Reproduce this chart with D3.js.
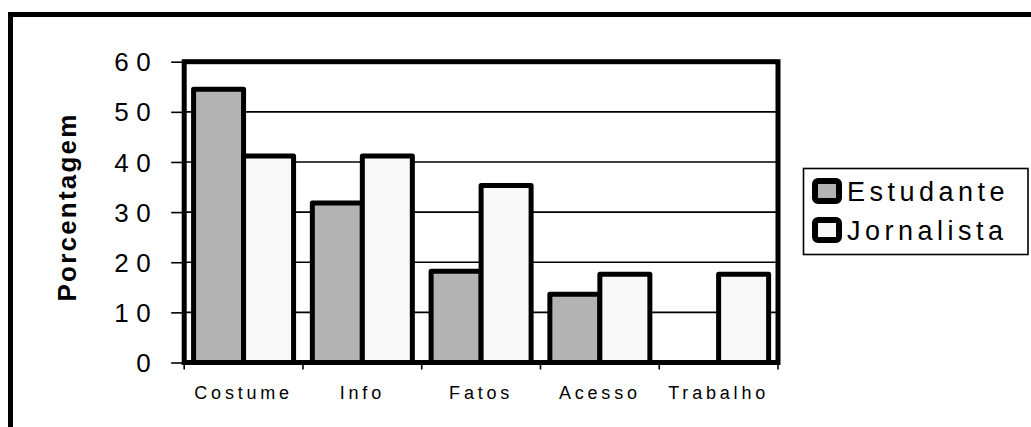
<!DOCTYPE html>
<html>
<head>
<meta charset="utf-8">
<script src="https://cdn.jsdelivr.net/npm/d3@7"></script>
<style>
  body { margin: 0; background: #fff; }
  text { font-family: "Liberation Sans", Arial, sans-serif; fill: #000; }
</style>
</head>
<body>
<svg id="chart" width="1031" height="427"></svg>
<script>
var categories = ["Costume", "Info", "Fatos", "Acesso", "Trabalho"]
var series = ["Estudante", "Jornalista"]
var estudante = [54.5, 31.8, 18.2, 13.6, 0]
var jornalista = [41.2, 41.2, 35.3, 17.6, 17.6]
var yTicks = [0, 10, 20, 30, 40, 50, 60]
var colors = ["#b3b3b3", "#f8f8f8"]

var dimensions = {
  width: 1031,
  height: 427,
  plot: { left: 184.2, right: 778, top: 61.7, bottom: 362.5 }
}

var svg = d3.select("#chart")

// outer frame, runs off the right and bottom edges
svg.append("rect")
   .attr("x", 10.5).attr("y", 14.5)
   .attr("width", 1100).attr("height", 500)
   .attr("fill", "none").attr("stroke", "#000").attr("stroke-width", 5)

var xScale = d3.scaleBand()
               .domain(categories)
               .range([dimensions.plot.left, dimensions.plot.right])

var groupW = 100
var xSub = d3.scaleBand()
             .domain(series)
             .range([xScale.bandwidth()/2 - groupW/2, xScale.bandwidth()/2 + groupW/2])

var yScale = d3.scaleLinear()
               .domain([0, 60])
               .range([dimensions.plot.bottom, dimensions.plot.top])

// gridlines
svg.append("g")
   .selectAll("line")
   .data(yTicks.filter(d => d > 0 && d < 60))
   .enter()
   .append("line")
   .attr("x1", dimensions.plot.left).attr("x2", dimensions.plot.right)
   .attr("y1", d => yScale(d)).attr("y2", d => yScale(d))
   .attr("stroke", "#000").attr("stroke-width", 1.6)

// y axis
var yAxis = svg.append("g")
               .attr("transform", `translate(${dimensions.plot.left},0)`)
               .call(d3.axisLeft(yScale).tickValues(yTicks).tickSize(13).tickPadding(13))
yAxis.select(".domain").remove()
yAxis.selectAll(".tick line").attr("stroke", "#000").attr("stroke-width", 1.6)
yAxis.selectAll(".tick text")
     .attr("font-size", 26)
     .attr("letter-spacing", 7.5)
     .attr("font-family", null)
     .attr("dy", "0.35em")

// x axis
var xAxis = svg.append("g")
               .attr("transform", `translate(0,${dimensions.plot.bottom})`)
               .call(d3.axisBottom(xScale).tickSize(0).tickPadding(36))
xAxis.select(".domain").remove()
xAxis.selectAll(".tick text")
     .attr("font-size", 18)
     .attr("letter-spacing", 3.8)
     .attr("font-family", null)
     .attr("dy", 0)
     .attr("dx", 0)

// category boundary ticks
svg.append("g")
   .selectAll("line")
   .data(categories.concat(["end"]))
   .enter()
   .append("line")
   .attr("x1", (d, i) => i < categories.length ? xScale(d) : dimensions.plot.right)
   .attr("x2", (d, i) => i < categories.length ? xScale(d) : dimensions.plot.right)
   .attr("y1", dimensions.plot.bottom)
   .attr("y2", dimensions.plot.bottom + 7)
   .attr("stroke", "#000").attr("stroke-width", 1.6)

// bars
var rows = categories.map((c, i) => ({ cat: c, values: [estudante[i], jornalista[i]] }))
var groups = svg.append("g")
                .selectAll("g")
                .data(rows)
                .enter()
                .append("g")
                .attr("transform", d => `translate(${xScale(d.cat)},0)`)
groups.selectAll("rect")
      .data(d => d.values.map((v, j) => ({ s: series[j], v: v, j: j })))
      .enter()
      .append("rect")
      .attr("x", d => xSub(d.s))
      .attr("width", xSub.bandwidth())
      .attr("y", d => yScale(d.v))
      .attr("height", d => yScale(0) - yScale(d.v))
      .attr("fill", d => colors[d.j])
      .attr("stroke", "#000")
      .attr("stroke-width", 5)
      .attr("stroke-linejoin", "round")

// plot frame
svg.append("rect")
   .attr("x", dimensions.plot.left).attr("y", dimensions.plot.top)
   .attr("width", dimensions.plot.right - dimensions.plot.left)
   .attr("height", dimensions.plot.bottom - dimensions.plot.top)
   .attr("fill", "none").attr("stroke", "#000").attr("stroke-width", 5)

// y label
svg.append("text")
   .attr("transform", "translate(76,207) rotate(-90)")
   .attr("text-anchor", "middle")
   .attr("font-size", 26)
   .attr("font-weight", "bold")
   .attr("letter-spacing", 2.2)
   .text("Porcentagem")

// legend
var legend = svg.append("g")
legend.append("rect")
      .attr("x", 803.5).attr("y", 168.5)
      .attr("width", 224.5).attr("height", 86)
      .attr("fill", "#fff").attr("stroke", "#000").attr("stroke-width", 1.6)
var items = legend.selectAll(".item")
                  .data(series)
                  .enter()
                  .append("g")
                  .attr("transform", (d, i) => `translate(0,${191 + i * 39})`)
items.append("rect")
     .attr("x", 815).attr("y", -10)
     .attr("width", 24).attr("height", 20)
     .attr("rx", 3)
     .attr("fill", (d, i) => colors[i])
     .attr("stroke", "#000").attr("stroke-width", 6)
items.append("text")
     .attr("x", 847)
     .attr("y", 10)
     .attr("font-size", 27)
     .attr("letter-spacing", 4.5)
     .text(d => d)
</script>
</body>
</html>
